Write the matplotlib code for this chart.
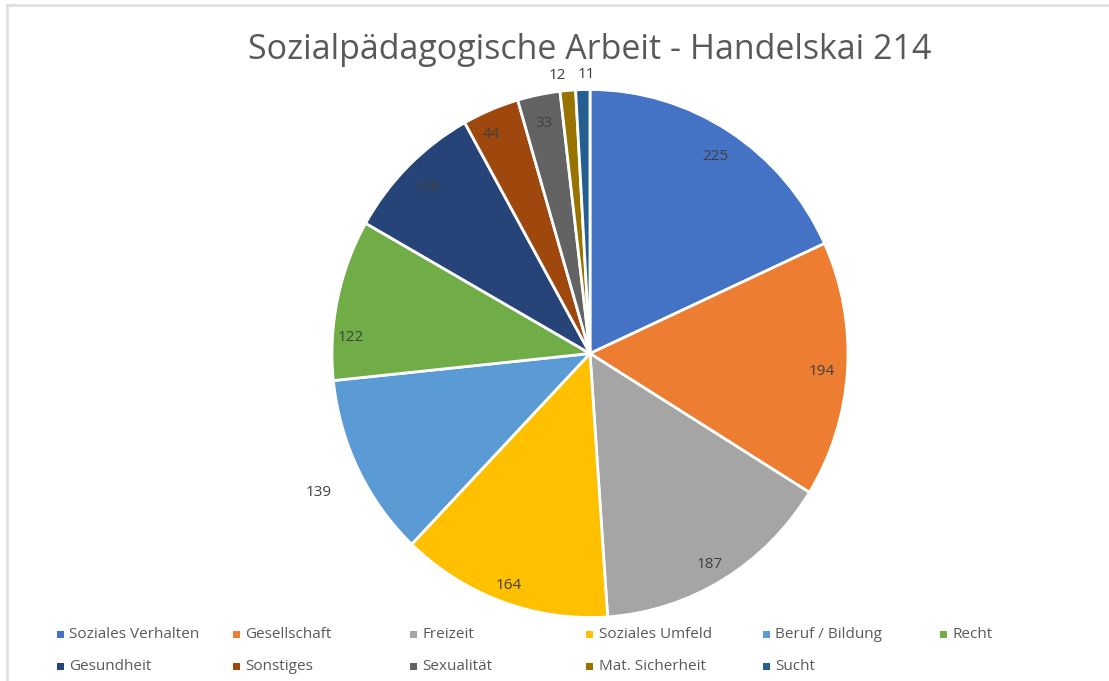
import matplotlib
matplotlib.use("Agg")
import matplotlib.pyplot as plt
import numpy as np
from matplotlib.patches import Rectangle
from matplotlib.lines import Line2D

plt.rcParams['font.family'] = ['Open Sans', 'DejaVu Sans']

categories = ["Soziales Verhalten", "Gesellschaft", "Freizeit", "Soziales Umfeld",
              "Beruf / Bildung", "Recht", "Gesundheit", "Sonstiges", "Sexualität",
              "Mat. Sicherheit", "Sucht"]
values = [225, 194, 187, 164, 139, 122, 108, 44, 33, 12, 11]
colors = ["#4472C4", "#ED7D31", "#A5A5A5", "#FFC000", "#5B9BD5", "#70AD47",
          "#264478", "#9E480E", "#636363", "#997300", "#255E91"]
title = "Sozialpädagogische Arbeit - Handelskai 214"

W, H = 1109, 681
fig = plt.figure(figsize=(W / 100, H / 100), dpi=100)

# frame lines (screenshot border)
fig.add_artist(Line2D([7 / W, 1], [1 - 5 / H, 1 - 5 / H], color="#e0e0e0", lw=2))
fig.add_artist(Line2D([7 / W, 7 / W], [0, 1 - 5 / H], color="#e0e0e0", lw=2))

cx, cy, rx, ry = 590, 353.5, 258, 264
ax = fig.add_axes([(cx - rx) / W, (H - cy - ry) / H, 2 * rx / W, 2 * ry / H])
wedges, _ = ax.pie(values, colors=colors, startangle=90, counterclock=False,
                   wedgeprops=dict(edgecolor="white", linewidth=2))
ax.set_aspect("auto")
ax.set_xlim(-1, 1)
ax.set_ylim(-1, 1)
ax.axis("off")

total = sum(values)
# label placement: (radius factor, angle override or None, x shift)
place = {139: (1.17, None, 0.0), 12: (1.07, None, -0.035), 11: (1.07, None, 0.015),
         122: (0.93, 175.5, 0.0), 44: (0.91, None, -0.03),
         164: (0.92, None, 0.0), 187: (0.92, None, -0.01)}
cum = 0
for i, v in enumerate(values):
    mid = 90 - (cum + v / 2) / total * 360
    cum += v
    rf, ang, dx = place.get(v, (0.9, None, 0.0))
    if ang is not None:
        mid = ang
    x = np.cos(np.radians(mid)) * rf + dx
    y = np.sin(np.radians(mid)) * rf - 0.012
    ax.text(x, y, str(v), ha="center", va="center", fontsize=11, color="#404040")

fig.text(cx / W, 1 - 50 / H, title, ha="center", va="center", fontsize=24.5, color="#595959")

# legend
for i, (lab, col) in enumerate(zip(categories, colors)):
    row, c = divmod(i, 6)
    x = 60 + c * 176.6
    y = 634 + row * 32
    fig.add_artist(Rectangle(((x - 3.5) / W, 1 - (y + 3.5) / H), 7 / W, 7 / H,
                             transform=fig.transFigure, facecolor=col, edgecolor="none"))
    fig.text((x + 9) / W, 1 - y / H, lab, ha="left", va="center", fontsize=11, color="#595959")

fig.savefig("out.png", dpi=100)
